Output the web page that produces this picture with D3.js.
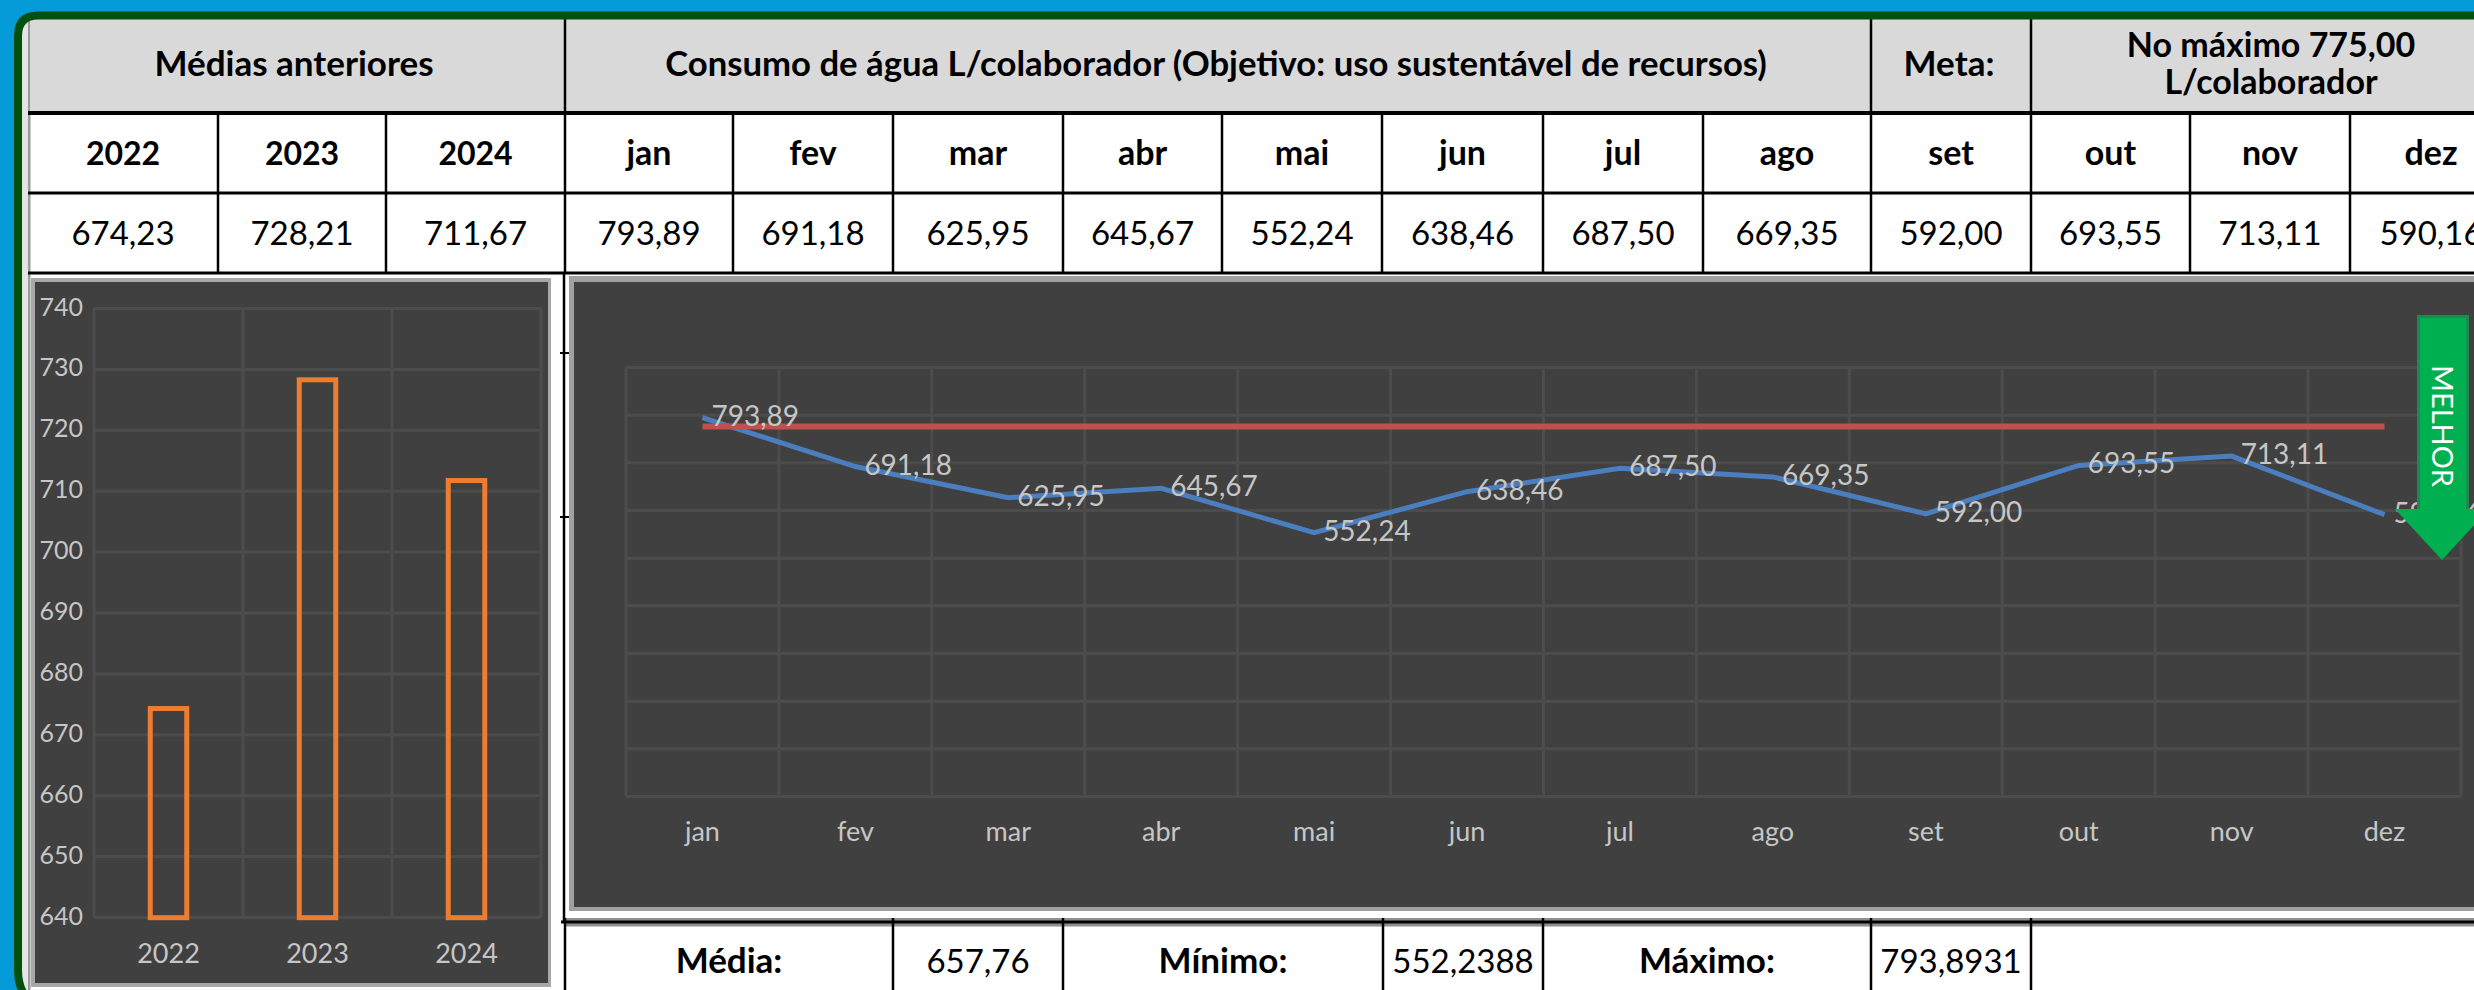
<!DOCTYPE html>
<html><head><meta charset="utf-8">
<script src="https://cdn.jsdelivr.net/npm/d3@7/dist/d3.min.js"></script>
<style>html,body{margin:0;padding:0;background:#fff;overflow:hidden}svg{display:block}text{font-family:Lato,"Open Sans",sans-serif}</style>
</head><body><svg id="c" width="2474" height="990"></svg>
<script>
const years=["2022","2023","2024"];
const yearValues=[674.23,728.21,711.67];
const months=["jan","fev","mar","abr","mai","jun","jul","ago","set","out","nov","dez"];
const monthValues=[793.89,691.18,625.95,645.67,552.24,638.46,687.50,669.35,592.00,693.55,713.11,590.16];
const target=775;
const headers=["Médias anteriores","Consumo de água L/colaborador (Objetivo: uso sustentável de recursos)","Meta:"];
const targetLines=["No máximo 775,00","L/colaborador"];
const statLabels=["Média:","Mínimo:","Máximo:"];
const statValues=["657,76","552,2388","793,8931"];
const fmt=v=>v.toFixed(2).replace(".",",");

const svg=d3.select("#c");
const black="#000",gridC="#4c4c4c",txtC="#c6c6c6";
const line=(x1,y1,x2,y2,c,w)=>svg.append("line").attr("x1",x1).attr("y1",y1).attr("x2",x2).attr("y2",y2).attr("stroke",c).attr("stroke-width",w);
const rect=(x,y,w,h,f)=>svg.append("rect").attr("x",x).attr("y",y).attr("width",w).attr("height",h).attr("fill",f);
const text=(x,y,s,size,weight,fill)=>svg.append("text").attr("x",x).attr("y",y).attr("text-anchor","middle").attr("font-size",size).attr("font-weight",weight).attr("fill",fill||"#000").text(s);

/* sheet background + outer frame */
rect(0,0,2474,990,"#fff");
rect(22,19,8,971,"#e4e4e4");
rect(28,19,2.5,971,"#9a9a9a");

/* table */
const edges=[28,218,386,565,733,893,1063,1222,1382,1543,1703,1871,2031,2190,2350,2512];
const labelsRow=years.concat(months);
const valuesRow=yearValues.concat(monthValues);
const mid=i=>(edges[i]+edges[i+1])/2;
rect(30,19,2444,94,"#d9d9d9");
text(294,76,headers[0],35,700);
text(1216,76,headers[1],34.7,700);
text(1949,76,headers[2],35,700);
text(2271,57,targetLines[0],34,700);
text(2271,94,targetLines[1],34,700);
years.forEach((d,i)=>text(mid(i),165,d,32,700));
months.forEach((d,i)=>text(mid(i+3),165,d,34,700));
valuesRow.forEach((d,i)=>text(mid(i),245,fmt(d),33,400));
[565,1871,2031].forEach(x=>line(x,19,x,113,black,2.5));
edges.slice(1,-1).forEach(x=>line(x,113,x,273,black,2.5));
[[113,4],[193,3],[273,3]].forEach(([y,w])=>line(28,y,2474,y,black,w));

/* left chart */
rect(31,278,520,709,"#a8a8a8");
rect(35,282,513,701,"#404040");
const lx=d3.scaleBand().domain(years).range([94,541]).paddingInner(.755).paddingOuter(.3775);
const ly=d3.scaleLinear().domain([640,740]).range([917,308]);
const lg=svg.append("g").attr("transform","translate(94,0)").call(d3.axisLeft(ly).tickValues(d3.range(640,741,10)).tickSize(-447).tickPadding(11).tickFormat(d3.format("d")));
lg.select(".domain").remove();
lg.selectAll("line").attr("stroke",gridC).attr("stroke-width",3);
lg.selectAll("text").attr("font-size",25).attr("fill",txtC).attr("font-family","Lato").attr("dy",7);
lx.domain().concat("end").forEach((d,i)=>{const x=94+lx.step()*i;line(x,308,x,917,gridC,3);});
svg.append("g").selectAll("rect").data(years).join("rect")
 .attr("x",d=>lx(d)).attr("width",lx.bandwidth())
 .attr("y",(d,i)=>ly(yearValues[i])).attr("height",(d,i)=>ly(640)-ly(yearValues[i])+.7)
 .attr("fill","none").attr("stroke","#ed7d31").attr("stroke-width",5);
const lxa=svg.append("g").attr("transform","translate(0,963)").call(d3.axisBottom(lx).tickSize(0).tickPadding(0));
lxa.select(".domain").remove();
lxa.selectAll("text").attr("font-size",27).attr("fill",txtC).attr("font-family","Lato").attr("y",0).attr("dy",0);

/* main chart */
rect(569,276,1905,635,"#a0a0a0");
rect(574,282,1900,625,"#404040");
const mx=d3.scaleBand().domain(months).range([626,2461]);
const my=d3.scaleLinear().domain([0,900]).range([796,367]);
const mg=svg.append("g").attr("transform","translate(626,0)").call(d3.axisLeft(my).tickValues(d3.range(0,901,100)).tickSize(-1835).tickFormat(""));
mg.select(".domain").remove();
mg.selectAll("line").attr("stroke",gridC).attr("stroke-width",3);
months.concat("end").forEach((d,i)=>{const x=626+mx.step()*i;line(x,367,x,796,gridC,3);});
const cx=d=>mx(d)+mx.bandwidth()/2;
svg.append("path").datum(months).attr("fill","none").attr("stroke","#4a7ebf").attr("stroke-width",5)
 .attr("d",d3.line().x(cx).y((d,i)=>my(monthValues[i])));
line(cx("jan"),my(target),cx("dez"),my(target),"#c04f4d",6);
const mxa=svg.append("g").attr("transform","translate(0,841)").call(d3.axisBottom(mx).tickSize(0).tickPadding(0));
mxa.select(".domain").remove();
mxa.selectAll("text").attr("font-size",27).attr("fill",txtC).attr("font-family","Lato").attr("y",0).attr("dy",0);
svg.append("g").selectAll("text").data(months).join("text")
 .attr("x",d=>cx(d)+9).attr("y",(d,i)=>my(monthValues[i])+8)
 .attr("font-size",28).attr("fill",txtC).text((d,i)=>fmt(monthValues[i]));

/* green arrow */
const shaftTop=315,shaftL=2417,shaftR=2469,headTop=509,tipY=560,tipX=2442,headHalf=47;
svg.append("rect").attr("x",shaftL+1.5).attr("y",shaftTop+1.5).attr("width",shaftR-shaftL-3).attr("height",headTop-shaftTop).attr("fill","#00b050").attr("stroke","#1f8a50").attr("stroke-width",3);
svg.append("path").attr("fill","#00b050").attr("d",d3.line()([[tipX-headHalf,headTop],[tipX+headHalf,headTop],[tipX,tipY]])+"Z");
svg.append("text").attr("transform","translate(2432,426) rotate(90)").attr("text-anchor","middle").attr("font-size",29).attr("fill","#fff").text("MELHOR");

/* side rule between the charts */
line(564,273,564,922,black,2.5);
[353,517].forEach(y=>line(560,y,569,y,black,2));

/* bottom table */
rect(564,925,1910,65,"#fff");
rect(565,918,1909,8.5,"#909090");
line(561,922,2474,922,black,3);
const be=[565,893,1063,1383,1543,1871,2031];
be.forEach(x=>line(x,918,x,990,black,2.5));
[[0,statLabels[0],statValues[0]],[2,statLabels[1],statValues[1]],[4,statLabels[2],statValues[2]]].forEach(([i,l,v])=>{
  text((be[i]+be[i+1])/2,973,l,35,700);
  text((be[i+1]+be[i+2])/2,973,v,33,400);
});

/* blue surround and green rounded frame */
svg.append("path").attr("fill","#059bd8").attr("fill-rule","evenodd")
 .attr("d","M0 0H2474V15.5H38Q18 15.5 18 36V970Q18 990 24 990H0Z");
svg.append("path").attr("fill","none").attr("stroke","#03500f").attr("stroke-width",8)
 .attr("d","M2474 15.5H38Q18 15.5 18 36V970Q18 984 24 994");
</script></body></html>
